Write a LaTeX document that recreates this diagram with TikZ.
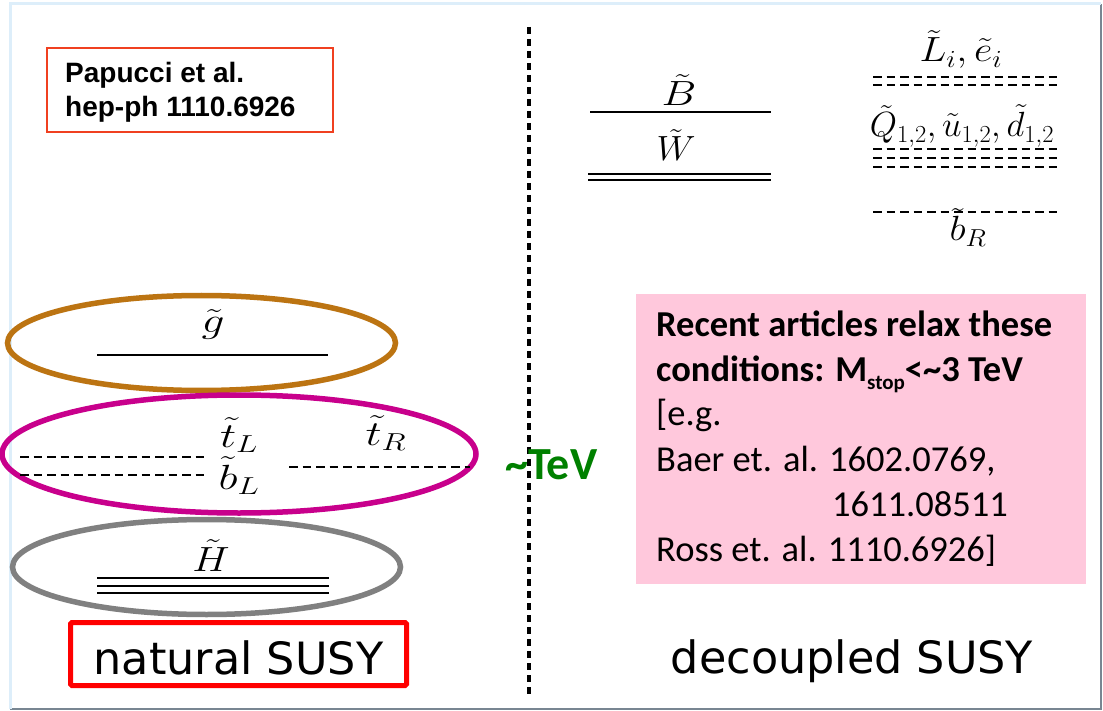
\RequirePackage{fix-cm}
\documentclass[tikz,border=0pt]{standalone}
\usepackage{fontspec}
\setmainfont{Carlito}
\newfontfamily\arialfont{Liberation Sans}
\newfontfamily\labelfont{DejaVu Sans}
\usepackage{graphicx}

\definecolor{framegray}{RGB}{120,134,146}
\definecolor{frameblue}{RGB}{221,238,250}
\definecolor{glubrown}{RGB}{188,116,18}
\definecolor{stopmag}{RGB}{200,0,140}
\definecolor{higgray}{RGB}{128,128,128}
\definecolor{refred}{RGB}{240,64,32}
\definecolor{notepink}{RGB}{255,200,220}
\definecolor{tevgreen}{RGB}{0,128,0}

\tikzset{
  level/.style={line width=2.4pt},
  dlevel/.style={line width=2.6pt, dash pattern=on 8.5pt off 5pt},
  mlabel/.style={inner sep=0pt, anchor=base, font=\fontsize{35}{35}\selectfont},
  notetext/.style={inner sep=0pt, anchor=base west, font=\fontsize{36.5}{44}\selectfont},
  susytext/.style={inner sep=0pt, anchor=base, font=\labelfont\fontsize{44.5}{50}\selectfont},
  reftext/.style={inner sep=0pt, anchor=base west, font=\arialfont\bfseries\fontsize{28}{33}\selectfont},
  ring/.style={line width=5.5pt}
}

\begin{document}
\begin{tikzpicture}[x=1pt,y=-1pt]
\useasboundingbox (0,0) rectangle (1103,711);
\fill[white] (0,0) rectangle (1103,711);

% slide frame
\draw[framegray, line width=2pt] (1101,4) -- (1101,709) -- (10,709);
\draw[frameblue, line width=3pt] (10,709) -- (10,4) -- (1101,4);

% reference box
\node[draw=refred, line width=2pt, minimum width=286, minimum height=84, inner sep=0pt]
  (refbox) at (190,90) {};
\node[reftext] (ref1) at (65,83) {Papucci et al.};
\node[reftext] (ref2) at (65,117) {hep-ph 1110.6926};

% separator between the two spectra
\draw[line width=4pt, dash pattern=on 7pt off 5pt] (529,27) -- (529,698);
\node[inner sep=0pt, anchor=base west, text=tevgreen,
      font=\bfseries\fontsize{46}{46}\selectfont] (tev) at (505,479) {\textasciitilde TeV};

% ---------- natural SUSY ----------
\draw[glubrown, ring] (201.5,343) ellipse [x radius=194, y radius=47.5];
\draw[stopmag, ring] (239,454) ellipse [x radius=237, y radius=59];
\draw[higgray, ring] (206.5,567) ellipse [x radius=194, y radius=47.5];

\draw[level] (97,355) -- (328,355);
\node[mlabel] (gl) at (213,333) {\scalebox{1.3}[1]{$\tilde{g}$}};

\draw[dlevel] (20,457) -- (205,457);
\draw[dlevel] (20,475) -- (205,475);
\draw[dlevel] (289,467) -- (470,467);
\node[mlabel] (tl) at (239,447) {\scalebox{1.3}[1]{$\tilde{t}_L$}};
\node[mlabel] (bl) at (239,489) {\scalebox{1.3}[1]{$\tilde{b}_L$}};
\node[mlabel] (tr) at (386,445) {\scalebox{1.3}[1]{$\tilde{t}_R$}};

\draw[level] (97,578) -- (329,578);
\draw[level] (97,586) -- (329,586);
\draw[level] (97,593) -- (329,593);
\node[mlabel] (hi) at (211,571) {\scalebox{1.2}[1]{$\tilde{H}$}};

\node[draw=red, line width=5pt, rounded corners=1.5pt, minimum width=336,
      minimum height=63, inner sep=0pt] (natbox) at (238.5,654) {};
\node[susytext] (nat) at (238.5,674) {natural SUSY};

% ---------- decoupled SUSY ----------
\draw[level] (590,112) -- (771,112);
\node[mlabel] (bi) at (679,106) {\scalebox{1.25}[1]{$\tilde{B}$}};
\draw[level] (588,174) -- (771,174);
\draw[level] (588,180) -- (771,180);
\node[mlabel] (wi) at (676,161) {\scalebox{1.05}[1]{$\tilde{W}$}};

\node[mlabel] (sl) at (961,62) {\scalebox{1.15}[1]{$\tilde{L}_i,\tilde{e}_i$}};
\draw[dlevel] (873,77) -- (1058,77);
\draw[dlevel] (873,85) -- (1058,85);

\node[mlabel] (sq) at (962,137) {$\tilde{Q}_{1,2},\tilde{u}_{1,2},\tilde{d}_{1,2}$};
\draw[dlevel] (873,149) -- (1058,149);
\draw[dlevel] (873,158) -- (1058,158);
\draw[dlevel] (873,167) -- (1058,167);

\draw[dlevel] (873,212) -- (1058,212);
\node[mlabel] (br) at (968,241) {\scalebox{1.1}[1]{$\tilde{b}_R$}};

% note on the relaxed bounds
\node[fill=notepink, minimum width=450, minimum height=290, inner sep=0pt]
  (note) at (861,439) {};
\node[notetext, font=\bfseries\fontsize{36.5}{44}\selectfont] (n1) at (656,337) {Recent articles relax these};
\node[notetext, font=\bfseries\fontsize{36.5}{44}\selectfont] (n2) at (656,381)
  {conditions: M\raisebox{-9pt}{\fontsize{21}{21}\selectfont stop}<\textasciitilde 3 TeV};
\node[notetext] (n3) at (656,425) {[e.g.};
\node[notetext] (n4) at (656,471) {Baer et. al. 1602.0769,};
\node[notetext] (n5) at (832,516) {1611.08511};
\node[notetext] (n6) at (656,561) {Ross et. al. 1110.6926]};

\node[susytext] (dec) at (852,673) {decoupled SUSY};
\end{tikzpicture}
\end{document}
